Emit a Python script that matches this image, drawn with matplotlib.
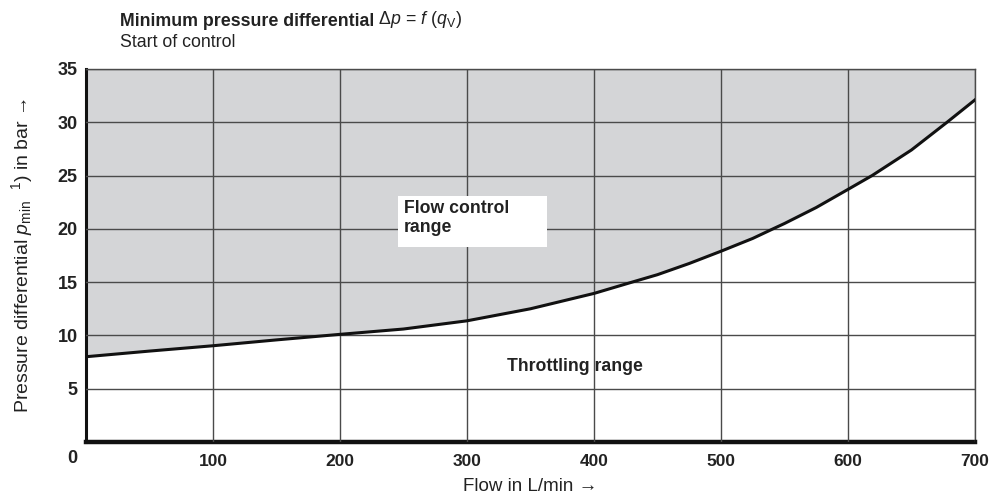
import numpy as np
import matplotlib.pyplot as plt

plt.rcParams['font.family'] = ['Liberation Sans', 'DejaVu Sans']
plt.rcParams['mathtext.fontset'] = 'custom'
plt.rcParams['mathtext.rm'] = 'Liberation Sans'
plt.rcParams['mathtext.it'] = 'Liberation Sans:italic'
plt.rcParams['mathtext.bf'] = 'Liberation Sans:bold'

# curve
flow = [0, 50, 100, 150, 200, 250, 300, 350, 400, 430, 450, 475, 500, 525, 541, 550,
        575, 600, 619, 650, 678, 700]
dp_min = [8.0, 8.53, 9.03, 9.58, 10.1, 10.6, 11.37, 12.5, 13.94, 15.0, 15.7, 16.75, 17.9,
          19.1, 20.0, 20.5, 22.0, 23.7, 25.0, 27.4, 30.0, 32.1]
x_ticks = [100, 200, 300, 400, 500, 600, 700]
y_ticks = [5, 10, 15, 20, 25, 30, 35]

fig = plt.figure(figsize=(9.9, 4.97), dpi=100)
ax = fig.add_axes([0.0869, 0.1107, 0.8979, 0.7505])

ax.fill_between(flow, dp_min, 35, color='#d4d5d7', lw=0, zorder=1)
ax.plot(flow, dp_min, color='#111111', lw=2.2, zorder=4, solid_joinstyle='round')

ax.set_xlim(0, 700)
ax.set_ylim(0, 35)
ax.set_xticks(x_ticks)
ax.set_yticks(y_ticks)
ax.tick_params(axis='x', length=0, labelsize=12.5, pad=9)
ax.tick_params(axis='y', length=0, labelsize=13, pad=6)
for lab in ax.get_xticklabels() + ax.get_yticklabels():
    lab.set_fontweight('bold')
    lab.set_color('#222222')
ax.grid(True, color='#4a4a4a', lw=1.0, zorder=2)
ax.set_axisbelow(False)
for s in ['top', 'right']:
    ax.spines[s].set_color('#4a4a4a')
    ax.spines[s].set_linewidth(1.0)
ax.spines['left'].set_linewidth(2.2)
ax.spines['bottom'].set_linewidth(3.2)
ax.spines['left'].set_color('#111111')
ax.spines['bottom'].set_color('#111111')

ax.text(-0.01, -0.022, '0', transform=ax.transAxes, ha='right', va='top',
        fontsize=13, fontweight='bold', color='#222222')

ax.add_patch(plt.Rectangle((246, 18.3), 117, 4.8, facecolor='white', edgecolor='none', zorder=3))
ax.text(250, 22.7, 'Flow control\nrange', fontsize=12.7, fontweight='bold', color='#222222',
        va='top', ha='left', linespacing=1.15, zorder=5)
ax.text(385, 7.1, 'Throttling range', fontsize=12.7, fontweight='bold', color='#222222',
        ha='center', va='center', zorder=5)

ax.set_xlabel('Flow in L/min →', fontsize=13.5, color='#222222', labelpad=6)
ax.set_ylabel(r'Pressure differential $\it{p}_{\rm min}$  $^{\rm 1}$) in bar →', fontsize=14,
              color='#222222', labelpad=16)

t1 = fig.text(0.121, 0.948, 'Minimum pressure differential', fontsize=12.8, fontweight='bold',
              color='#222222', va='baseline')
ax.annotate(r' $\it{\Delta p}$ = $\it{f}$ $\it{(q}_{\rm V}\it{)}$', xy=(1, 0), xycoords=t1,
            va='bottom', fontsize=12.8, color='#222222')
fig.text(0.121, 0.905, 'Start of control', fontsize=12.8, color='#222222', va='baseline')

plt.savefig('out.png')
